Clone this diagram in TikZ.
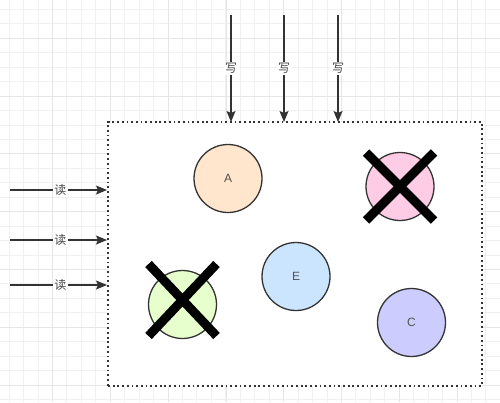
\documentclass[tikz,border=0pt]{standalone}
\usepackage{fontspec}
\setmainfont{Liberation Sans}
\newfontfamily\cjk{Noto Sans CJK SC}
\usetikzlibrary{arrows.meta}
\definecolor{ink}{HTML}{333333}
\definecolor{gridminor}{HTML}{F0F0F0}
\definecolor{gridmajor}{HTML}{E6E6E6}
\definecolor{cA}{HTML}{FFE6CC}
\definecolor{cP}{HTML}{FFCCE6}
\definecolor{cG}{HTML}{E6FFCC}
\definecolor{cE}{HTML}{CCE5FF}
\definecolor{cC}{HTML}{CCCCFF}
\tikzset{
  circ/.style={circle, draw=ink, line width=1.3pt, minimum size=68pt, inner sep=0pt, font=\fontsize{12}{12}\selectfont, text=ink!85},
  flow/.style={draw=ink, line width=1.3pt, -{Stealth[length=11pt,width=9pt,inset=2pt]}},
  lbl/.style={fill=white, inner sep=1.5pt, font=\cjk\fontsize{12}{12}\selectfont, text=ink!90},
  cross/.style={line width=9pt, black},
  boxstyle/.style={draw=ink, line width=1.6pt, dash pattern=on 1.8pt off 2.9pt, fill=white, minimum width=374pt, minimum height=264pt, inner sep=0pt}
}
\begin{document}
\begin{tikzpicture}[x=1pt,y=-1pt]
\useasboundingbox (0,0) rectangle (500,402);
\fill[white] (0,0) rectangle (500,402);
% grid
\foreach \i in {0,...,34} {
  \pgfmathsetmacro{\gx}{9+14.45*\i}
  \draw[gridminor, line width=0.8pt] (\gx,0) -- (\gx,402);
}
\foreach \i in {0,...,27} {
  \pgfmathsetmacro{\gy}{9.3+14.45*\i}
  \draw[gridminor, line width=0.8pt] (0,\gy) -- (500,\gy);
}
\foreach \i in {0,...,8} {
  \pgfmathsetmacro{\gx}{-5.1+57.8*\i}
  \draw[gridmajor, line width=0.9pt] (\gx,0) -- (\gx,402);
}
\foreach \i in {0,...,7} {
  \pgfmathsetmacro{\gy}{38.2+57.8*\i}
  \draw[gridmajor, line width=0.9pt] (0,\gy) -- (500,\gy);
}
% box
\node[boxstyle] (box) at (295,254) {};
% circles
\node[circ, fill=cA] (A) at (228,178.5) {A};
\node[circ, fill=cP] (P) at (400,186.5) {};
\node[circ, fill=cG] (G) at (182.5,304.5) {};
\node[circ, fill=cE] (E) at (296,276.5) {E};
\node[circ, fill=cC] (C) at (411.5,322.5) {C};
% crosses
\draw[cross] ([shift={(-34,-34)}]P.center) -- ([shift={(34,34)}]P.center);
\draw[cross] ([shift={(34,-34)}]P.center) -- ([shift={(-34,34)}]P.center);
\coordinate (gx) at (182.5,300);
\draw[cross] ([shift={(-34,-36)}]gx) -- ([shift={(34,36)}]gx);
\draw[cross] ([shift={(34,-36)}]gx) -- ([shift={(-34,36)}]gx);
% write arrows
\foreach \n/\x in {1/231,2/284,3/338} {
  \coordinate (ws\n) at (\x,15);
  \coordinate (we\n) at (\x,122);
  \draw[flow] (ws\n) -- node[lbl, pos=0.5] {写} (we\n);
}
% read arrows
\foreach \n/\y in {1/190,2/240,3/285} {
  \coordinate (rs\n) at (10,\y);
  \coordinate (re\n) at (107,\y);
  \draw[flow] (rs\n) -- node[lbl, pos=0.52] {读} (re\n);
}
\end{tikzpicture}
\end{document}
